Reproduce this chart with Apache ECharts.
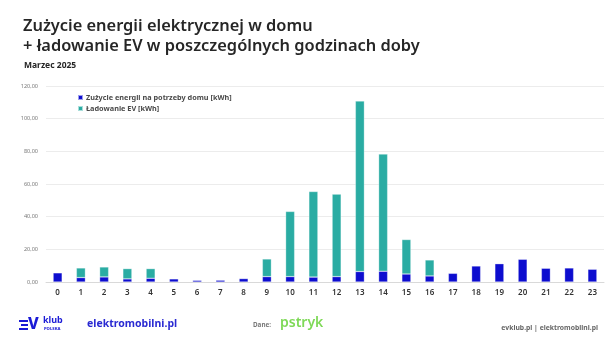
<!DOCTYPE html>
<html>
<head>
<meta charset="utf-8">
<script src="https://cdn.jsdelivr.net/npm/echarts@6/dist/echarts.min.js"></script>
<style>
html,body{margin:0;padding:0;background:#fff;}
#chart{width:605px;height:342px;}
</style>
</head>
<body>
<div id="chart"></div>
<script>
// Hours of the day
const hours = ['0','1','2','3','4','5','6','7','8','9','10','11','12','13','14','15','16','17','18','19','20','21','22','23'];
// Household consumption per hour [kWh]
const homeUse = [5.6, 2.7, 3.1, 1.9, 2.3, 1.9, 1.0, 1.1, 2.1, 3.3, 3.3, 3.0, 3.3, 6.4, 6.6, 4.9, 3.7, 5.3, 9.8, 11.2, 13.9, 8.4, 8.6, 7.8];
// EV charging per hour [kWh]
const evCharging = [0, 5.9, 6.1, 6.3, 5.9, 0, 0, 0, 0, 10.8, 39.9, 52.4, 50.5, 104.4, 71.7, 21.1, 9.8, 0, 0, 0, 0, 0, 0, 0];
// Value axis ticks
const yTicks = [0, 20, 40, 60, 80, 100, 120];

const seriesNames = ['Zużycie energii na potrzeby domu [kWh]', 'Ładowanie EV [kWh]'];
const BLUE = '#0d0dcf';
const TEAL = '#2aaca3';
const FONT = '"Noto Sans", "Open Sans", sans-serif';

const chart = echarts.init(document.getElementById('chart'), null, {renderer: 'canvas'});
chart.setOption({
  backgroundColor: '#ffffff',
  animation: false,
  textStyle: {fontFamily: FONT},
  title: [
    {
      text: 'Zużycie energii elektrycznej w domu\n+ ładowanie EV w poszczególnych godzinach doby',
      left: 18, top: 12,
      textStyle: {fontSize: 16.4, fontWeight: 600, color: '#262626', lineHeight: 19.5, fontFamily: FONT}
    },
    {
      text: 'Marzec 2025',
      left: 19, top: 56,
      textStyle: {fontSize: 8.5, fontWeight: 700, color: '#262626', fontFamily: FONT}
    }
  ],
  legend: {
    data: seriesNames,
    orient: 'vertical',
    left: 72, top: 89,
    itemWidth: 5, itemHeight: 5, itemGap: 4,
    icon: 'rect',
    textStyle: {fontSize: 7.3, fontWeight: 700, color: '#4a4a4a', fontFamily: FONT, padding: [0, 0, 0, -2]}
  },
  grid: {left: 46, right: 1, top: 86, bottom: 60, containLabel: false},
  xAxis: {
    type: 'category',
    data: hours,
    axisTick: {show: false},
    axisLine: {show: true, lineStyle: {color: '#d9d9d9', width: 1}},
    axisLabel: {fontSize: 8, fontWeight: 600, color: '#333', margin: 7, interval: 0}
  },
  yAxis: {
    type: 'value',
    min: yTicks[0], max: yTicks[yTicks.length - 1], interval: 20,
    axisLine: {show: false},
    axisTick: {show: false},
    splitLine: {lineStyle: {color: '#ececec', width: 1}},
    axisLabel: {
      fontSize: 5.5, color: '#777', margin: 8,
      formatter: v => v.toFixed(2).replace('.', ',')
    }
  },
  series: [
    {
      name: seriesNames[0], type: 'bar', stack: 'total', barWidth: 9,
      data: homeUse,
      itemStyle: {color: BLUE, borderColor: 'rgba(255,255,255,0.6)', borderWidth: 0.5}
    },
    {
      name: seriesNames[1], type: 'bar', stack: 'total', barWidth: 9,
      data: evCharging.map(v => v === 0 ? null : v),
      itemStyle: {color: TEAL, borderColor: 'rgba(255,255,255,0.6)', borderWidth: 0.5}
    }
  ],
  graphic: [
    // EV klub Polska logo
    {type: 'rect', left: 19, top: 320, shape: {width: 9, height: 2}, style: {fill: '#1a1ad6'}},
    {type: 'rect', left: 21, top: 324, shape: {width: 7, height: 2}, style: {fill: '#1a1ad6'}},
    {type: 'rect', left: 19, top: 328, shape: {width: 9, height: 2}, style: {fill: '#1a1ad6'}},
    {type: 'text', left: 28, top: 316, style: {text: 'V', fontSize: 16, fontWeight: 800, fill: '#1a1ad6', fontFamily: FONT}},
    {type: 'text', left: 43, top: 316, style: {text: 'klub', fontSize: 9, fontWeight: 700, fill: '#1a1ad6', fontFamily: FONT}},
    {type: 'text', left: 44, top: 327, style: {text: 'POLSKA', fontSize: 4.2, fontWeight: 800, fill: '#1a1ad6', fontFamily: FONT}},
    {type: 'text', left: 87, top: 319, style: {text: 'elektromobilni.pl', fontSize: 10.5, fontWeight: 700, fill: '#2a2ad2', fontFamily: FONT}},
    {type: 'text', left: 253, top: 322, style: {text: 'Dane:', fontSize: 6.3, fontWeight: 700, fill: '#777', fontFamily: FONT}},
    {type: 'text', left: 280, top: 316, style: {text: 'pstryk', fontSize: 14, fontWeight: 600, fill: '#7ed957', fontFamily: FONT}},
    {type: 'text', right: 7, top: 325, style: {text: 'evklub.pl | elektromobilni.pl', fontSize: 6.8, fontWeight: 700, fill: '#666', fontFamily: FONT}}
  ]
});
</script>
</body>
</html>
